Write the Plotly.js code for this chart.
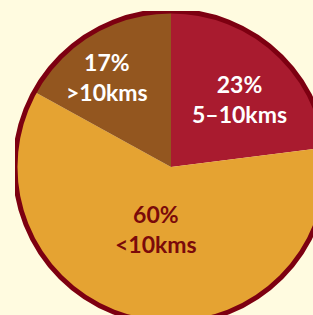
<!DOCTYPE html>
<html><head><meta charset="utf-8">
<script src="https://cdn.plot.ly/plotly-3.0.1.min.js"></script>
<style>
html,body{margin:0;padding:0;width:313px;height:315px;overflow:hidden;background:#FFFBE0;}
#chart{position:absolute;left:15px;top:11px;width:312px;height:312px;}
</style></head>
<body><div id="chart"></div>
<script>
var labels = ['5–10kms', '<10kms', '>10kms'];
var values = [23, 60, 17];
var colors = ['#A91B2F', '#E5A332', '#93561F'];
var textColors = ['#FFFFFF', '#7A0A0A', '#FFFFFF'];
// radial placement of each label, as a fraction of the pie radius (layout only)
var labelRadius = [0.62, 0.406, 0.71];
var labelAngleShift = [4, 3, -5];

function esc(s){ return s.replace(/</g,'&lt;').replace(/>/g,'&gt;'); }

var W = 312, H = 312, R = 156;
var total = values.reduce(function(a,b){return a+b;},0);
var annotations = [];
var cum = 0;
values.forEach(function(v,i){
  var mid = (cum + v/2) / total * 360 + labelAngleShift[i];
  cum += v;
  var a = mid * Math.PI / 180;
  var d = labelRadius[i] * R;
  annotations.push({
    xref: 'paper', yref: 'paper',
    x: 0.5 + d * Math.sin(a) / W,
    y: 0.5 + d * Math.cos(a) / H,
    xanchor: 'center', yanchor: 'middle',
    text: v + '%<br>' + esc(labels[i]),
    showarrow: false,
    font: {family: 'Lato', size: 23, color: textColors[i], weight: 'bold'}
  });
});

Plotly.newPlot('chart', [{
  type: 'pie',
  values: values,
  labels: labels,
  textinfo: 'none',
  sort: false,
  direction: 'clockwise',
  rotation: 0,
  marker: {colors: colors, line: {width: 0}},
  hoverinfo: 'none'
}, {
  type: 'pie',
  values: [1],
  labels: ['outline'],
  textinfo: 'none',
  sort: false,
  marker: {colors: ['rgba(0,0,0,0)'], line: {color: '#7D0011', width: 5}},
  hoverinfo: 'none'
}], {
  width: W, height: H,
  margin: {l: 0, r: 0, t: 0, b: 0},
  paper_bgcolor: 'rgba(0,0,0,0)',
  showlegend: false,
  annotations: annotations
}, {staticPlot: true});
</script></body></html>
